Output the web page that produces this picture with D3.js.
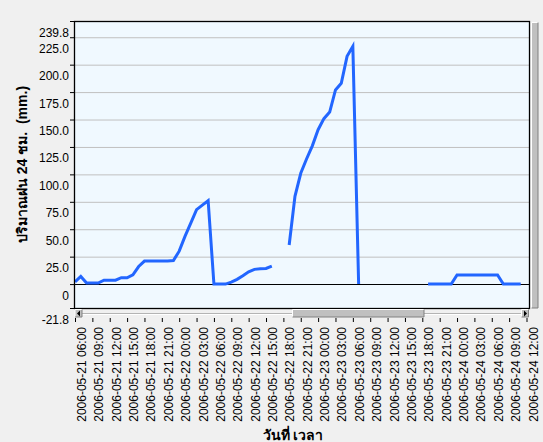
<!DOCTYPE html>
<html>
<head>
<meta charset="utf-8">
<script src="https://cdn.jsdelivr.net/npm/d3@7"></script>
<style>
  body { margin: 0; background: #f0f0f0; }
  svg { display: block; font-family: "Liberation Sans", Arial, sans-serif; }
</style>
</head>
<body>
<div class="chart"></div>
<script>
// Step 1: data (hourly rain, null = no reading)
//= ================================
var rainStart = "2006-05-21 06:00";
var rainMm = [
  2, 7, 1, 1, 1, 3.6, 3.6, 3.6, 5.8, 5.8, 8.5, 16, 21, 21, 21, 21, 21, 21.5,
  30, 43.5, 55.6, 67.8, 72, 76, 0, 0, 0, 1.8, 4.3, 7.6, 11.2, 13.4, 14, 14.3, 16.4,
  null, null,
  35.6, 80, 101, 114, 126, 140.7, 150.8, 156.8, 177, 183, 207.6, 216.7, 0,
  null, null, null, null, null, null, null, null, null, null, null,
  0, 0, 0, 0, 0, 8.3, 8.3, 8.3, 8.3, 8.3, 8.3, 8.3, 8.3, 0, 0, 0, 0
];
var xTickFirst = "2006-05-21 06:00";
var xTickLast = "2006-05-24 12:00";
var yTicks = [-21.8, 0, 25, 50, 75, 100, 125, 150, 175, 200, 225, 239.8];
var gridValues = [25, 50, 75, 100, 125, 150, 175, 200, 225];
var yTitle = "ปริมาณฝน 24 ชม.  (mm.)";
var xTitle = "วันที่ เวลา";

// Step 2: svg + plot box
//= ================================
var svgWidth = 543;
var svgHeight = 442;
var plot = { left: 74, right: 529, top: 21, bottom: 308 };

var svg = d3.select(".chart")
  .append("svg")
  .attr("width", svgWidth)
  .attr("height", svgHeight);

var parseTime = d3.timeParse("%Y-%m-%d %H:%M");
var t0 = parseTime(rainStart);
var rainData = rainMm.map((v, i) => ({ time: d3.timeHour.offset(t0, i), mm: v }));

// Step 3: scales
//= ================================
var xScale = d3.scaleTime()
  .domain([parseTime(xTickFirst), parseTime(xTickLast)])
  .range([75, 526.5]);

var yScale = d3.scaleLinear()
  .domain([-21.8, 239.8])
  .range([plot.bottom, plot.top]);

// plot background
svg.append("rect")
  .attr("x", plot.left)
  .attr("y", plot.top)
  .attr("width", plot.right - plot.left)
  .attr("height", plot.bottom - plot.top)
  .attr("fill", "#f0f9ff");

// grid lines
svg.append("g").selectAll("line")
  .data(gridValues)
  .enter()
  .append("line")
  .attr("x1", plot.left)
  .attr("x2", plot.right)
  .attr("y1", d => yScale(d) + 0.5)
  .attr("y2", d => yScale(d) + 0.5)
  .attr("stroke", "#c0c0c0")
  .attr("stroke-width", 1);

// zero line
svg.append("line")
  .attr("x1", plot.left)
  .attr("x2", plot.right)
  .attr("y1", Math.round(yScale(0)) + 0.5)
  .attr("y2", Math.round(yScale(0)) + 0.5)
  .attr("stroke", "#000");

// Step 4: rain line
//= ================================
svg.append("clipPath")
  .attr("id", "plotClip")
  .append("rect")
  .attr("x", plot.left)
  .attr("y", plot.top)
  .attr("width", plot.right - plot.left)
  .attr("height", plot.bottom - plot.top);

var rainLine = d3.line()
  .defined(d => d.mm !== null)
  .x(d => xScale(d.time))
  .y(d => yScale(d.mm));

svg.append("path")
  .datum(rainData)
  .attr("clip-path", "url(#plotClip)")
  .attr("d", rainLine)
  .attr("fill", "none")
  .attr("stroke", "#2266ff")
  .attr("stroke-width", 3);

// frame
svg.append("rect")
  .attr("x", plot.left + 0.5)
  .attr("y", plot.top + 0.5)
  .attr("width", plot.right - plot.left)
  .attr("height", plot.bottom - plot.top)
  .attr("fill", "none")
  .attr("stroke", "#000")
  .attr("stroke-width", 1.3);

// Step 5: axes
//= ================================
var leftAxis = d3.axisLeft(yScale)
  .tickValues(yTicks)
  .tickSize(4)
  .tickPadding(1)
  .tickFormat(d => d === 0 ? "0" : d.toFixed(1));

var yAxisG = svg.append("g")
  .attr("transform", `translate(${plot.left}, 0)`)
  .call(leftAxis);
yAxisG.select(".domain").remove();
yAxisG.selectAll("text")
  .attr("dy", "1.25em")
  .attr("font-size", 12)
  .attr("font-family", "Liberation Sans, Arial, sans-serif")
  .attr("fill", "#000");

var bottomAxis = d3.axisBottom(xScale)
  .ticks(d3.timeHour.every(3))
  .tickSize(4)
  .tickFormat(d3.timeFormat("%Y-%m-%d %H:%M"));

var xAxisG = svg.append("g")
  .attr("transform", "translate(0, 318)")
  .call(bottomAxis);
xAxisG.select(".domain").remove();
xAxisG.selectAll("text")
  .attr("transform", "rotate(-90)")
  .attr("text-anchor", "end")
  .attr("x", -9)
  .attr("y", 10.5)
  .attr("dy", 0)
  .attr("font-size", 12)
  .attr("font-family", "Liberation Sans, Arial, sans-serif")
  .attr("fill", "#000");

// Step 6: scroll bars
//= ================================
var hBar = svg.append("g");
hBar.append("line")
  .attr("x1", 82).attr("x2", 522)
  .attr("y1", 313.5).attr("y2", 313.5)
  .attr("stroke", "#b4b4b4");
hBar.append("line")
  .attr("x1", 82).attr("x2", 522)
  .attr("y1", 314.5).attr("y2", 314.5)
  .attr("stroke", "#ffffff");

function button(g, x, y, w, h) {
  g.append("rect").attr("x", x).attr("y", y).attr("width", w).attr("height", h)
    .attr("fill", "#c0c0c0");
  g.append("path").attr("d", `M${x},${y + h}V${y}H${x + w}`)
    .attr("fill", "none").attr("stroke", "#ffffff");
  g.append("path").attr("d", `M${x},${y + h}H${x + w}V${y}`)
    .attr("fill", "none").attr("stroke", "#808080");
}
button(hBar, 75, 309.5, 7, 7.5);
button(hBar, 521.5, 309.5, 7, 7.5);
button(hBar, 292.5, 309.5, 131.5, 7.5);
hBar.append("path").attr("d", "M77,313.5L80,310.5V316.5Z").attr("fill", "#000");
hBar.append("path").attr("d", "M527,313.5L524,310.5V316.5Z").attr("fill", "#000");
button(svg.append("g"), 531.5, 22.5, 6.5, 285.5);

// Step 7: axis titles
//= ================================
svg.append("text")
  .attr("transform", `translate(27, ${(plot.top + plot.bottom) / 2}) rotate(-90)`)
  .attr("text-anchor", "middle")
  .attr("font-size", 14)
  .attr("font-weight", "bold")
  .attr("xml:space", "preserve")
  .style("white-space", "pre")
  .text(yTitle);

svg.append("text")
  .attr("x", 293)
  .attr("y", 440)
  .attr("text-anchor", "middle")
  .attr("font-size", 14)
  .attr("font-weight", "bold")
  .text(xTitle);
</script>
</body>
</html>
